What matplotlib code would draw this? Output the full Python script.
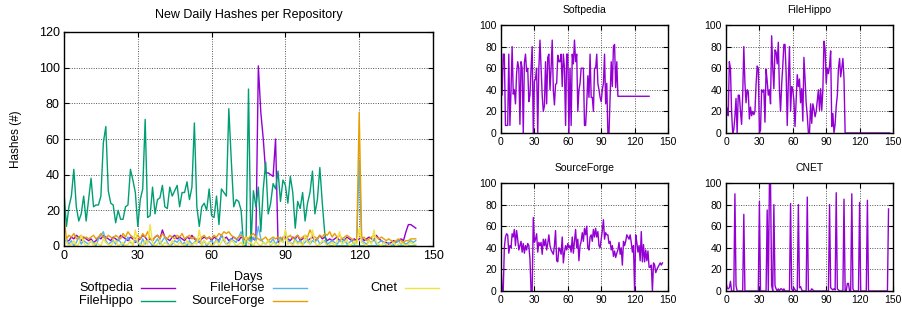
import numpy as np
import matplotlib
matplotlib.use('Agg')
import matplotlib.pyplot as plt
from matplotlib.lines import Line2D

plt.rcParams['font.family'] = ['Liberation Sans', 'DejaVu Sans']

# main chart: new daily hashes, days 0..143
softpedia = [4, 3, 3, 5, 4, 6, 5, 3, 5, 4,
             3, 4, 2, 3, 5, 4, 6, 5, 4, 3,
             5, 4, 3, 6, 5, 4, 3, 5, 4, 2,
             3, 4, 6, 5, 3, 4, 3, 5, 6, 4,
             9, 5, 4, 3, 5, 6, 4, 5, 4, 3,
             5, 4, 6, 4, 3, 2, 4, 5, 4, 5,
             3, 5, 4, 3, 6, 4, 5, 3, 4, 5,
             4, 3, 5, 4, 3, 4, 5, 4, 3, 101,
             75, 60, 41, 41, 40, 39, 60, 2, 3, 4,
             5, 4, 3, 5, 4, 6, 3, 4, 5, 3,
             4, 5, 3, 4, 6, 4, 5, 3, 4, 3,
             4, 5, 3, 4, 3, 5, 4, 3, 4, 3,
             4, 5, 3, 4, 5, 4, 3, 6, 4, 3,
             2, 2, 1, 2, 3, 2, 3, 4, 3, 8,
             12, 12, 11, 10]
filehippo = [30, 11, 22, 28, 43, 22, 14, 18, 28, 14,
             26, 38, 22, 23, 23, 28, 58, 67, 31, 24,
             23, 13, 20, 15, 15, 22, 23, 43, 37, 30,
             11, 26, 32, 71, 16, 17, 33, 18, 26, 27,
             34, 22, 21, 33, 28, 31, 34, 22, 30, 30,
             36, 26, 33, 69, 22, 11, 22, 24, 20, 32,
             17, 16, 28, 12, 32, 30, 28, 77, 48, 22,
             26, 25, 20, 0, 0, 88, 0, 31, 22, 33,
             8, 32, 47, 18, 24, 35, 32, 42, 25, 37,
             34, 24, 39, 30, 10, 25, 21, 30, 14, 24,
             30, 42, 18, 26, 44, 24, 7, 0, 0, 0,
             0, 0, 0, 0, 0, 0, 0, 0, 0, 0,
             0, 0, 0, 0, 0, 0, 0, 0, 0, 0,
             0, 0, 0, 0, 0, 0, 0, 0, 0, 0,
             0, 0, 0, 0]
filehorse = [2, 4, 1, 3, 0, 2, 5, 1, 3, 2,
             1, 3, 2, 0, 4, 6, 8, 3, 1, 2,
             3, 1, 4, 2, 0, 3, 5, 2, 1, 3,
             2, 0, 4, 1, 3, 2, 0, 2, 4, 1,
             3, 5, 2, 0, 1, 3, 2, 4, 1, 2,
             0, 3, 1, 2, 4, 2, 1, 3, 0, 2,
             3, 1, 4, 2, 6, 3, 1, 2, 4, 3,
             2, 5, 8, 3, 1, 4, 2, 5, 3, 11,
             4, 2, 1, 3, 2, 4, 1, 3, 5, 2,
             8, 3, 2, 1, 4, 2, 3, 1, 2, 4,
             1, 3, 2, 4, 1, 2, 3, 1, 2, 3,
             2, 1, 3, 2, 4, 1, 2, 3, 1, 2,
             48, 3, 2, 1, 3, 2, 4, 1, 2, 3,
             2, 1, 2, 0, 1, 2, 3, 1, 2, 1,
             2, 3, 2, 3]
sourceforge = [16, 4, 6, 5, 7, 4, 5, 6, 4, 5,
               4, 5, 6, 4, 5, 7, 5, 4, 6, 5,
               4, 6, 5, 4, 7, 5, 8, 6, 5, 4,
               6, 4, 7, 5, 8, 4, 3, 5, 6, 4,
               7, 5, 4, 6, 5, 4, 6, 5, 7, 4,
               5, 6, 4, 5, 3, 4, 5, 6, 4, 5,
               4, 6, 5, 7, 6, 8, 7, 8, 6, 5,
               4, 5, 6, 4, 5, 4, 6, 7, 5, 4,
               3, 4, 5, 3, 4, 5, 4, 5, 4, 5,
               4, 5, 6, 4, 5, 6, 4, 5, 6, 5,
               9, 6, 5, 4, 6, 5, 7, 6, 8, 5,
               7, 5, 6, 4, 5, 6, 5, 4, 3, 3,
               75, 4, 5, 3, 4, 5, 6, 5, 4, 5,
               4, 3, 4, 3, 2, 3, 4, 3, 2, 3,
               3, 4, 4, 4]
cnet = [9, 2, 0, 1, 3, 0, 1, 6, 2, 0,
        1, 3, 0, 2, 1, 0, 4, 2, 1, 0,
        2, 3, 0, 1, 2, 0, 1, 3, 0, 9,
        2, 1, 0, 3, 1, 12, 2, 0, 1, 3,
        0, 2, 1, 0, 3, 1, 0, 2, 1, 0,
        3, 1, 0, 2, 1, 9, 0, 3, 1, 2,
        0, 1, 3, 0, 2, 5, 1, 0, 3, 2,
        0, 1, 2, 0, 5, 1, 2, 0, 3, 1,
        0, 2, 1, 3, 0, 2, 1, 0, 3, 2,
        9, 1, 2, 0, 3, 1, 2, 0, 6, 2,
        1, 9, 2, 0, 1, 3, 2, 0, 1, 2,
        0, 3, 8, 1, 2, 4, 0, 1, 2, 1,
        10, 2, 1, 0, 3, 1, 9, 2, 1, 0,
        2, 1, 0, 1, 2, 0, 1, 2, 1, 0,
        1, 2, 1, 1]

# small panels (percent-like values)
sp_small = [70, 35, 73, 73, 7, 7, 7, 73, 7, 40,
            80, 36, 40, 27, 55, 66, 60, 8, 66, 60,
            0, 65, 73, 57, 60, 29, 35, 60, 80, 0,
            48, 50, 60, 0, 60, 86, 60, 35, 20, 25,
            66, 27, 70, 73, 40, 60, 86, 40, 26, 45,
            46, 72, 66, 66, 73, 43, 73, 60, 7, 73,
            73, 0, 60, 7, 73, 64, 86, 66, 73, 20,
            40, 46, 60, 60, 60, 7, 7, 27, 53, 33,
            73, 33, 33, 20, 60, 60, 73, 46, 40, 33,
            29, 40, 46, 73, 27, 46, 0, 0, 33, 66,
            43, 80, 82, 42, 66, 34, 34, 34, 34, 34,
            34, 34, 34, 34, 34, 34, 34, 34, 34, 34,
            34, 34, 34, 34, 34, 34, 34, 34, 34, 34,
            34, 34, 34, 34]
fh_small = [26, 22, 16, 66, 60, 20, 0, 3, 15, 32,
            0, 35, 35, 20, 8, 35, 80, 46, 28, 40,
            38, 13, 24, 16, 20, 17, 20, 45, 62, 60,
            0, 3, 40, 38, 40, 10, 59, 48, 35, 40,
            27, 90, 60, 41, 77, 75, 64, 84, 40, 20,
            45, 62, 82, 82, 56, 7, 48, 80, 20, 43,
            40, 30, 6, 30, 54, 43, 50, 28, 41, 11,
            70, 50, 28, 16, 0, 0, 27, 9, 27, 22,
            15, 20, 30, 40, 21, 41, 21, 40, 85, 78,
            46, 60, 55, 62, 76, 6, 18, 0, 8, 25,
            35, 60, 69, 52, 60, 69, 50, 0, 0, 0,
            0, 0, 0, 0, 0, 0, 0, 0, 0, 0,
            0, 0, 0, 0, 0, 0, 0, 0, 0, 0,
            0, 0, 0, 0, 0, 0, 0, 0, 0, 0,
            0, 0, 0, 0, 0, 0, 0, 0]
sf_small = [25, 0, 0, 40, 50, 53, 52, 35, 42, 40,
            53, 50, 57, 42, 56, 48, 38, 42, 46, 36,
            44, 35, 42, 38, 44, 42, 30, 0, 0, 68,
            45, 48, 53, 36, 45, 42, 45, 34, 48, 42,
            48, 38, 44, 52, 42, 38, 36, 34, 42, 56,
            28, 27, 40, 38, 34, 50, 26, 36, 42, 38,
            44, 40, 42, 36, 50, 35, 46, 57, 40, 48,
            28, 42, 46, 54, 46, 58, 52, 60, 40, 38,
            50, 52, 46, 57, 50, 58, 50, 55, 42, 40,
            48, 56, 66, 48, 54, 52, 52, 44, 46, 38,
            42, 32, 37, 31, 35, 38, 45, 34, 40, 24,
            46, 42, 46, 52, 50, 48, 52, 45, 36, 42,
            0, 52, 45, 36, 42, 28, 55, 27, 43, 27,
            38, 28, 37, 22, 22, 24, 0, 26, 24, 17,
            20, 22, 24, 26, 24, 26]
cnet_small = [8, 3, 2, 3, 9, 0, 0, 0, 90, 5,
              0, 0, 0, 0, 0, 0, 71, 0, 0, 0,
              0, 0, 0, 0, 0, 0, 0, 0, 0, 0,
              83, 0, 0, 0, 0, 0, 0, 75, 0, 100,
              100, 5, 0, 80, 5, 2, 0, 2, 0, 2,
              2, 0, 2, 0, 0, 0, 0, 0, 81, 2,
              0, 3, 1, 0, 0, 80, 3, 4, 1, 0,
              0, 0, 0, 87, 0, 0, 0, 2, 1, 0,
              0, 0, 0, 0, 0, 0, 0, 0, 0, 0,
              0, 0, 0, 80, 3, 2, 1, 2, 1, 91,
              2, 1, 0, 0, 0, 0, 85, 0, 0, 7,
              7, 0, 0, 90, 2, 0, 0, 0, 0, 0,
              82, 0, 0, 0, 0, 0, 0, 84, 0, 0,
              0, 0, 0, 0, 0, 0, 0, 0, 0, 0,
              0, 0, 0, 0, 0, 0, 76]

purple = '#9400d3'
green = '#009e73'
blue = '#56b4e9'
orange = '#e69f00'
yellow = '#f0e442'

W, H = 903, 310
fig = plt.figure(figsize=(W / 100, H / 100), dpi=100)


def style(ax, ymax, ystep, fs):
    ax.set_xlim(0, 150)
    ax.set_ylim(0, ymax)
    ax.set_xticks(np.arange(0, 151, 30))
    ax.set_yticks(np.arange(0, ymax + 1, ystep))
    ax.tick_params(direction='in', top=True, right=True, labelsize=fs,
                   length=3.5, width=0.8, pad=3)
    ax.grid(True, color='#555555', linestyle=(0, (1, 1.5)), linewidth=0.7)
    for s in ax.spines.values():
        s.set_linewidth(1.0)


ax = fig.add_axes([64 / W, 1 - 246 / H, 369 / W, 214 / H])
series = [('Softpedia', softpedia, purple), ('FileHippo', filehippo, green),
          ('FileHorse', filehorse, blue), ('SourceForge', sourceforge, orange),
          ('Cnet', cnet, yellow)]
for name, vals, c in series:
    ax.plot(np.arange(len(vals)), vals, color=c, lw=1.0)
style(ax, 120, 20, 9)
ax.set_title('New Daily Hashes per Repository', fontsize=9, pad=10)
ax.set_ylabel('Hashes (#)', fontsize=8.5, labelpad=12)
fig.text(248 / W, 1 - 277 / H, 'Days', fontsize=9, ha='center', va='center')

# legend, gnuplot style: text right aligned, then the line sample
cols = [(133, 141), (265, 273), (397, 405)]
rows = [288, 301]
slots = [(0, 0), (0, 1), (1, 0), (1, 1), (2, 0)]
for (name, vals, c), (ci, ri) in zip(series, slots):
    tx, lx = cols[ci]
    y = 1 - rows[ri] / H
    fig.text(tx / W, y, name, fontsize=9.2, ha='right', va='center')
    fig.add_artist(Line2D([lx / W, (lx + 34) / W], [y, y], color=c, lw=1.0))

small = [('Softpedia', sp_small, [501, 133]), ('FileHippo', fh_small, [726, 133]),
         ('SourceForge', sf_small, [501, 291]), ('CNET', cnet_small, [726, 291])]
for name, vals, (x0, yb) in small:
    a = fig.add_axes([x0 / W, 1 - yb / H, 167 / W, 108 / H])
    a.plot(np.arange(len(vals)), vals, color=purple, lw=1.0)
    style(a, 100, 20, 7.5)
    a.set_title(name, fontsize=7.5, pad=8.5)

fig.savefig('out.png', dpi=100)
